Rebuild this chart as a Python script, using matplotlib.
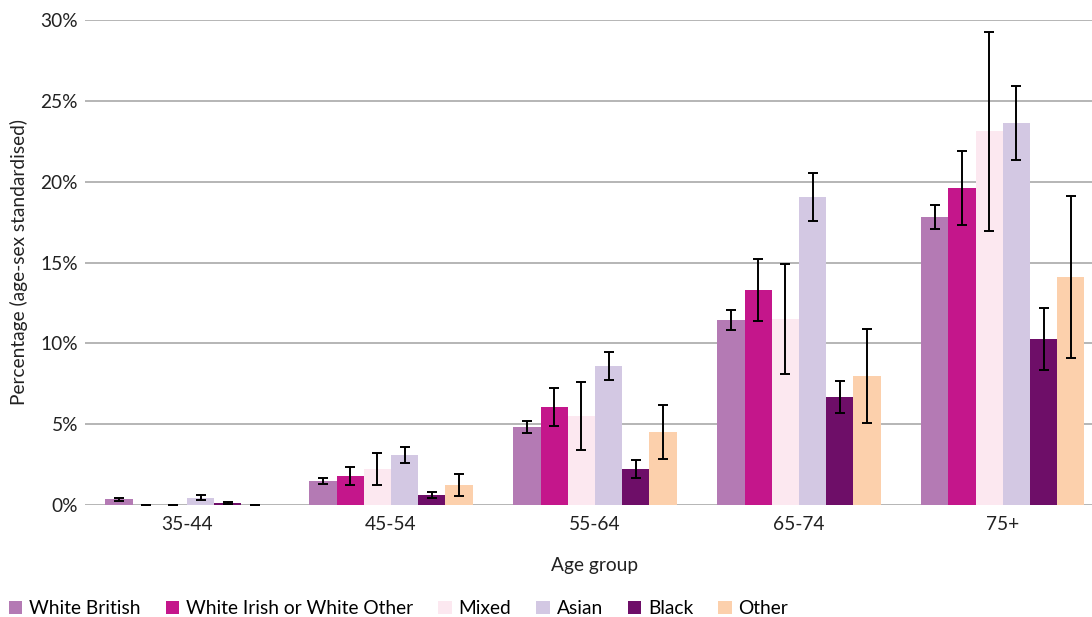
import matplotlib.pyplot as plt
import numpy as np

plt.rcParams['font.family'] = ['Lato', 'DejaVu Sans']

age_groups = ["35-44", "45-54", "55-64", "65-74", "75+"]
ethnicities = ["White British", "White Irish or White Other", "Mixed",
               "Asian", "Black", "Other"]
colors = ["#b47ab4", "#c4168b", "#fce8f0", "#d3c8e3", "#6e0e68", "#fcd0ac"]

# percentage (age-sex standardised) per ethnic group, one value per age group
white_british = [0.35, 1.48, 4.82, 11.44, 17.81]
white_other = [0.0, 1.79, 6.06, 13.3, 19.6]
mixed = [0.0, 2.23, 5.5, 11.5, 23.13]
asian = [0.45, 3.09, 8.6, 19.05, 23.62]
black = [0.14, 0.62, 2.23, 6.68, 10.27]
other = [0.0, 1.24, 4.51, 7.98, 14.1]

# half-widths of the confidence intervals
white_british_err = [0.08, 0.2, 0.37, 0.64, 0.74]
white_other_err = [0.0, 0.56, 1.18, 1.94, 2.3]
mixed_err = [0.0, 1.0, 2.1, 3.4, 6.16]
asian_err = [0.15, 0.48, 0.88, 1.5, 2.27]
black_err = [0.05, 0.18, 0.58, 1.0, 1.9]
other_err = [0.0, 0.7, 1.68, 2.93, 5.0]

values = [white_british, white_other, mixed, asian, black, other]
errors = [white_british_err, white_other_err, mixed_err, asian_err,
          black_err, other_err]

fig = plt.figure(figsize=(10.92, 6.17), dpi=100)
ax = fig.add_axes([0.0778, 0.1815, 0.934, 0.786])

x = np.arange(len(age_groups))
w = 0.8 / len(ethnicities)
for i, (name, vals, errs, col) in enumerate(zip(ethnicities, values, errors, colors)):
    pos = x - 0.4 + w * (i + 0.5)
    ax.bar(pos, vals, width=w, color=col, label=name, zorder=2)
    ax.errorbar(pos, vals, yerr=errs, fmt='none', ecolor='black',
                elinewidth=1.4, capsize=3.5, capthick=1.4, zorder=3)

ax.set_xlim(-0.5, len(age_groups) - 0.5)
ax.set_ylim(0, 30)
ax.set_yticks(np.arange(0, 31, 5))
ax.set_yticklabels([f"{t}%" for t in range(0, 31, 5)])
ax.set_xticks(x)
ax.set_xticklabels(age_groups)
ax.grid(axis='y', color='#b0b0b0', linewidth=1.3, zorder=0)
for s in ax.spines.values():
    s.set_visible(False)
ax.tick_params(axis='both', length=0, labelsize=13.8, colors='#222222')
ax.tick_params(axis='x', pad=8)
ax.tick_params(axis='y', pad=5)

ax.set_xlabel("Age group", fontsize=13.8, color='#222222', labelpad=17)
fig.text(0.017, 0.575, "Percentage (age-sex standardised)", rotation=90,
         ha='center', va='center', fontsize=13.8, color='#222222')

fig.legend(loc='lower left', bbox_to_anchor=(-0.004, -0.022), ncol=6,
           frameon=False, fontsize=13.8, handlelength=0.7, handleheight=0.7,
           handletextpad=0.36, columnspacing=1.3, borderaxespad=0.3)

fig.savefig("out.png", dpi=100)
